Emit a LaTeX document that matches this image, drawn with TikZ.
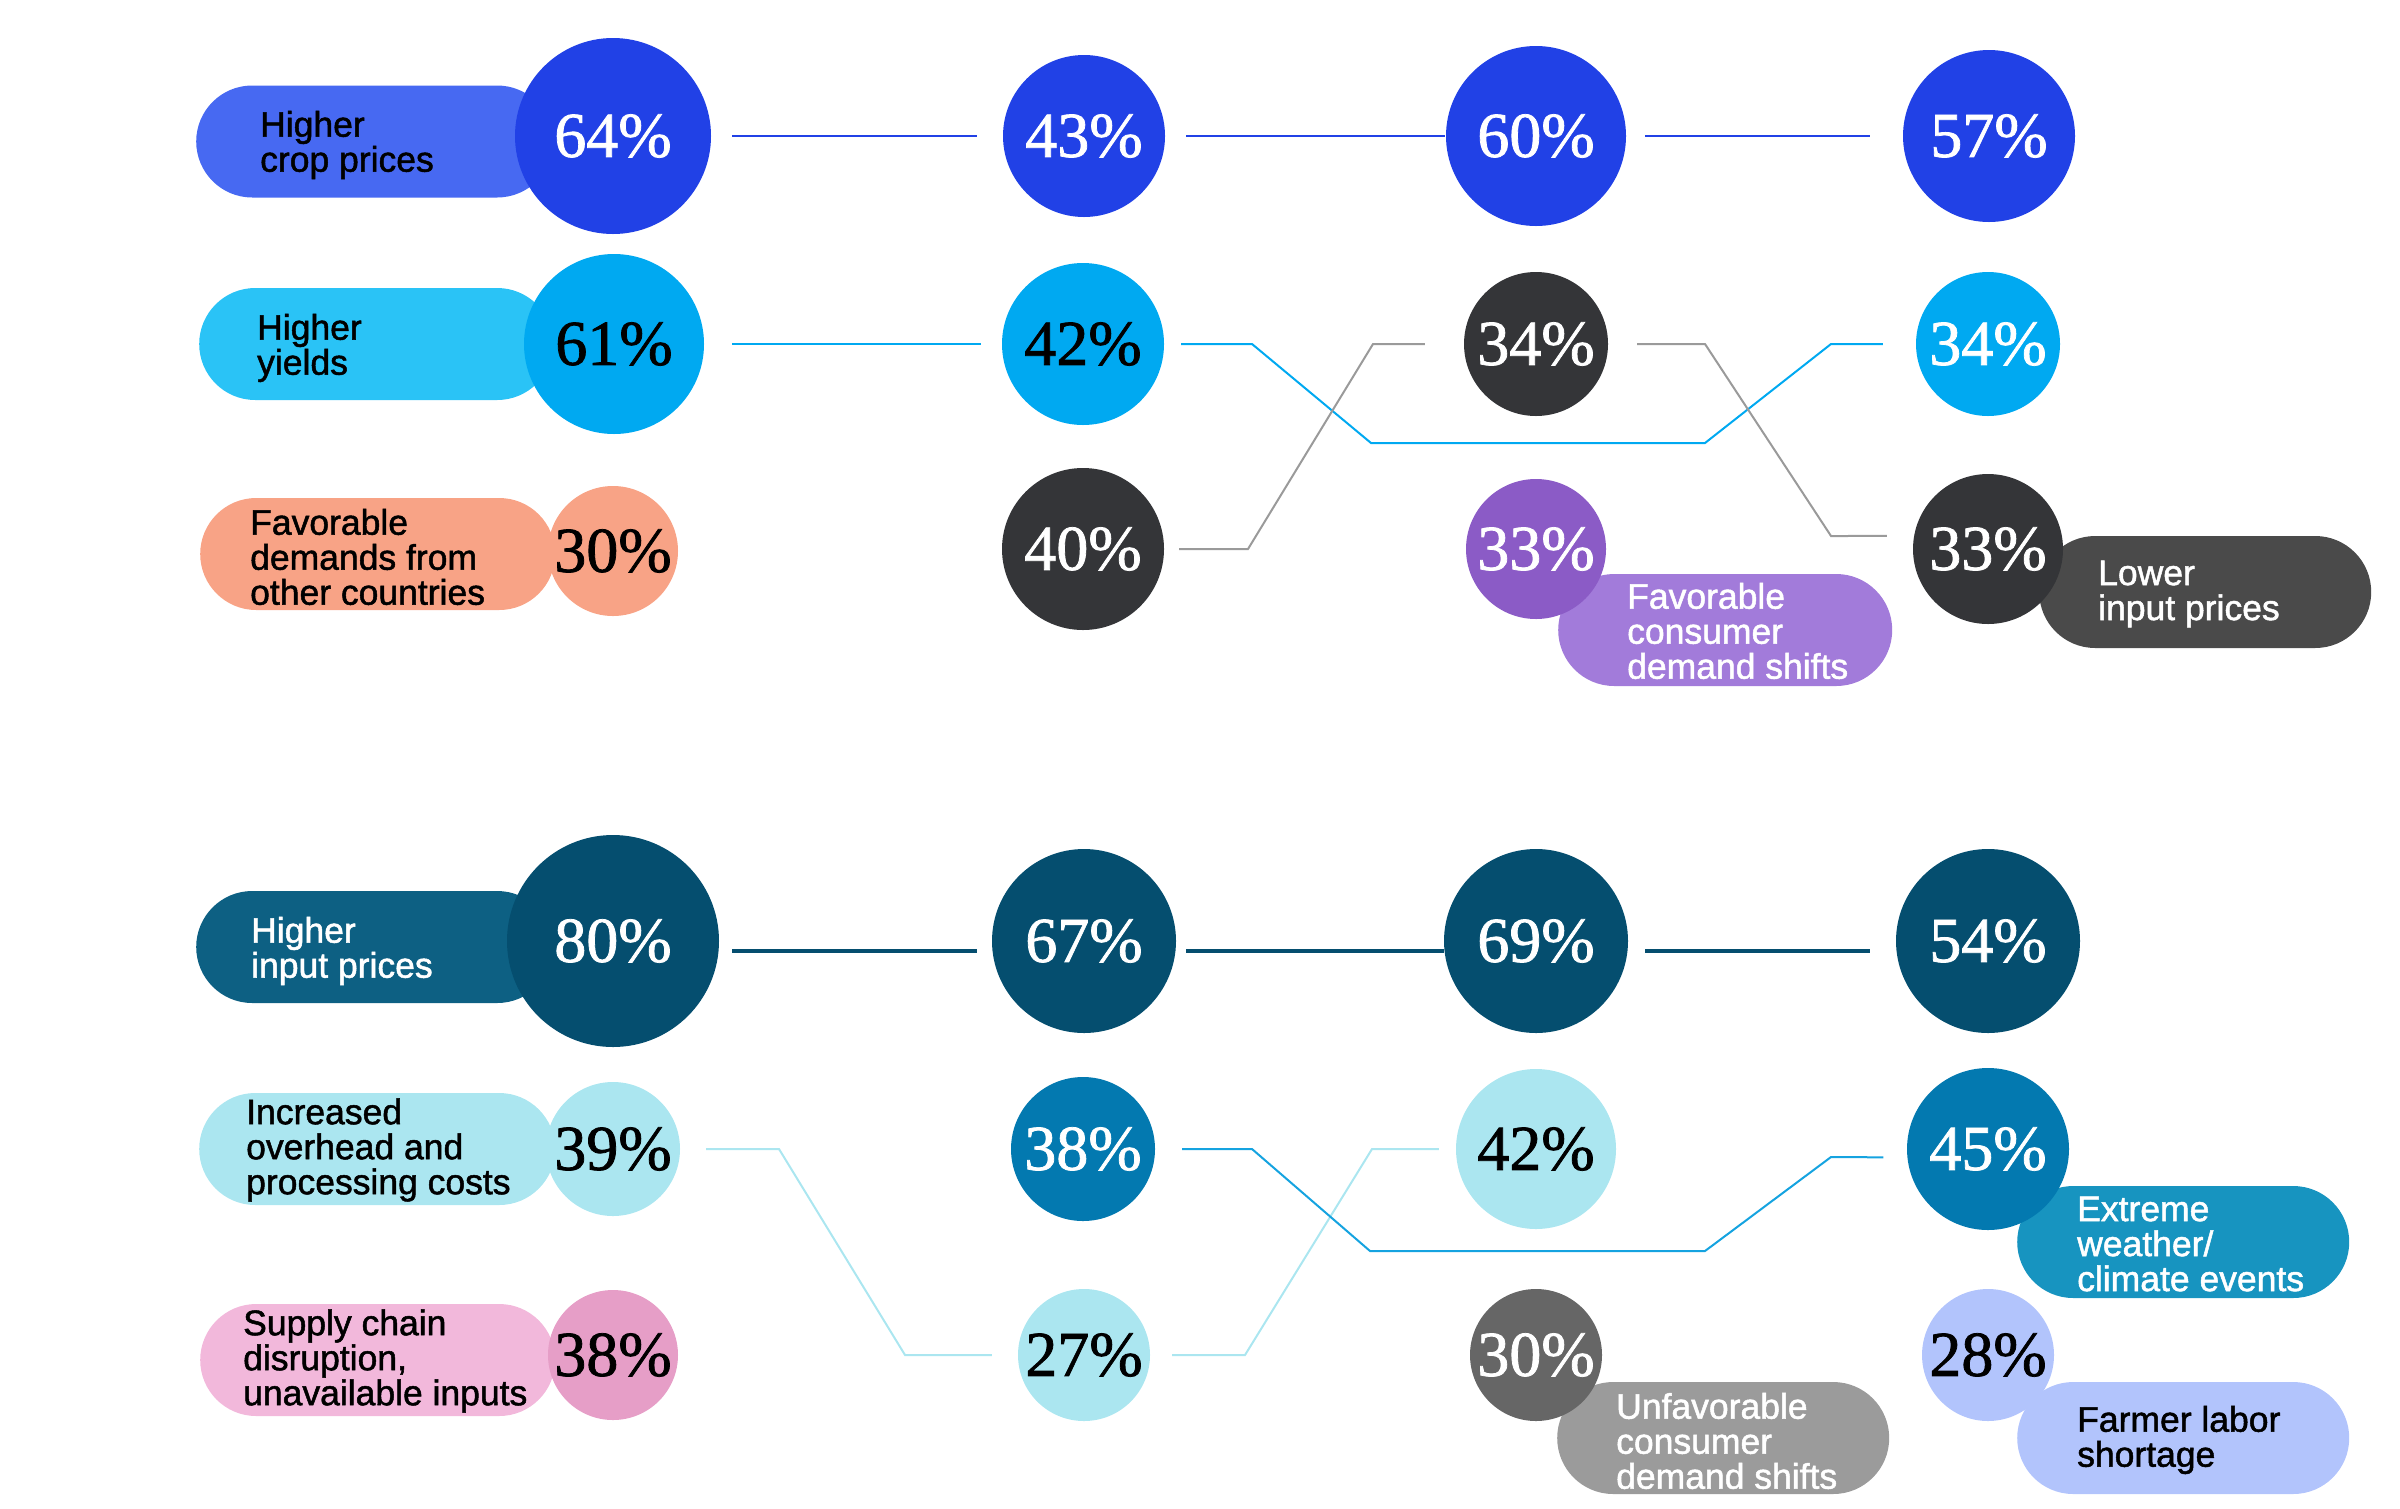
\documentclass[tikz,border=0pt]{standalone}
\usepackage{fontspec}
\newfontfamily\lblsans{Liberation Sans}[FakeBold=1.4]
\newfontfamily\pctserif{Liberation Serif}[FakeBold=1.2]
\newcommand\lblfont{\lblsans\fontsize{35.5}{35}\selectfont}
\newcommand\pctfont{\pctserif\fontsize{64}{64}\selectfont}

\definecolor{cropC}{HTML}{2141E6}
\definecolor{cropP}{HTML}{4769F2}
\definecolor{yieldC}{HTML}{00A9F1}
\definecolor{yieldP}{HTML}{2AC3F6}
\definecolor{salmonC}{HTML}{F8A386}
\definecolor{coalC}{HTML}{343538}
\definecolor{lowerP}{HTML}{4A4A4A}
\definecolor{purpleC}{HTML}{8B5BC6}
\definecolor{purpleP}{HTML}{A27BDA}
\definecolor{inputC}{HTML}{054E6F}
\definecolor{inputP}{HTML}{0D6083}
\definecolor{wxC}{HTML}{0379B0}
\definecolor{wxP}{HTML}{1794C0}
\definecolor{wxLine}{HTML}{15A3E0}
\definecolor{overC}{HTML}{ABE6F0}
\definecolor{pinkC}{HTML}{E69EC7}
\definecolor{pinkP}{HTML}{F2B8DB}
\definecolor{greyC}{HTML}{666666}
\definecolor{greyP}{HTML}{9B9B9B}
\definecolor{greyLine}{HTML}{9A9A9A}
\definecolor{periC}{HTML}{B2C4FC}

\tikzset{
  pill/.style={rectangle, rounded corners=56pt, minimum height=112pt, inner sep=0pt, anchor=west},
  pct/.style={circle, inner sep=0pt, font=\pctfont},
  lbl/.style={anchor=west, align=left, inner sep=0pt, font=\lblfont},
  link/.style={line width=2pt},
}

\begin{document}
\begin{tikzpicture}[x=1pt, y=-1pt]
  \useasboundingbox (0,0) rectangle (2400,1508);

  % label pills, left
  \node[pill, fill=cropP, minimum width=357pt] (bcrop) at (196,141.5) {};
  \node[pill, fill=yieldP, minimum width=354pt] (byield) at (199,344) {};
  \node[pill, fill=salmonC, minimum width=355pt] (bdemand) at (200,554) {};
  \node[pill, fill=inputP, minimum width=357pt] (binput) at (196,947) {};
  \node[pill, fill=overC, minimum width=356pt] (bover) at (199,1149) {};
  \node[pill, fill=pinkP, minimum width=355pt] (bsupply) at (200,1360) {};

  \node[lbl] (tcrop) at (260,145) {Higher\\crop prices};
  \node[lbl] (tyield) at (257,348) {Higher\\yields};
  \node[lbl] (tdemand) at (250,557) {Favorable\\demands from\\other countries};
  \node[lbl, text=white] (tinput) at (251,951) {Higher\\input prices};
  \node[lbl] (tover) at (246,1150) {Increased\\overhead and\\processing costs};
  \node[lbl] (tsupply) at (243,1361) {Supply chain\\disruption,\\unavailable inputs};

  % label pills, right
  \node[pill, fill=purpleP, minimum width=334pt] (bcons) at (1558,630) {};
  \node[pill, fill=lowerP, minimum width=332pt] (blower) at (2039,592) {};
  \node[pill, fill=wxP, minimum width=332pt] (bwx) at (2017,1242) {};
  \node[pill, fill=greyP, minimum width=332pt] (bunfav) at (1557,1438) {};
  \node[pill, fill=periC, minimum width=332pt] (blabor) at (2017,1438) {};

  \node[lbl, text=white] (tcons) at (1627,631) {Favorable\\consumer\\demand shifts};
  \node[lbl, text=white] (tlower) at (2098,594) {Lower\\input prices};
  \node[lbl, text=white] (twx) at (2077,1244) {Extreme\\weather/\\climate events};
  \node[lbl, text=white] (tunfav) at (1616,1441) {Unfavorable\\consumer\\demand shifts};
  \node[lbl] (tlabor) at (2077,1440) {Farmer labor\\shortage};

  % percentage circles
  \foreach \nm/\cx/\cy/\r/\cl/\tc/\val in {
      p64/613/136/98/cropC/white/64, p43/1084/136/81/cropC/white/43,
      p60/1536/136/90/cropC/white/60, p57/1989/136/86/cropC/white/57,
      p61/614/344/90/yieldC/black/61, p42/1083/344/81/yieldC/black/42,
      p34a/1536/344/72/coalC/white/34, p34b/1988/344/72/yieldC/white/34,
      p30a/613/551/65/salmonC/black/30, p40/1083/549/81/coalC/white/40,
      p33a/1536/549/70/purpleC/white/33, p33b/1988/549/75/coalC/white/33,
      p80/613/941/106/inputC/white/80, p67/1084/941/92/inputC/white/67,
      p69/1536/941/92/inputC/white/69, p54/1988/941/92/inputC/white/54,
      p39/613/1149/67/overC/black/39, p38b/1083/1149/72/wxC/white/38,
      p42c/1536/1149/80/overC/black/42, p45/1988/1149/81/wxC/white/45,
      p38a/613/1355/65/pinkC/black/38, p27/1084/1355/66/overC/black/27,
      p30b/1536/1355/66/greyC/white/30, p28/1988/1355/66/periC/black/28} {
    \node[pct, fill=\cl, text=\tc, minimum size=2*\r] (\nm) at (\cx,\cy) {\val\%};
  }

  % connectors, top block
  \draw[link, cropC, shorten <=21pt, shorten >=26pt] (p64) -- (p43);
  \draw[link, cropC, shorten <=21pt, shorten >=1pt] (p43) -- (p60);
  \draw[link, cropC, shorten <=19pt, shorten >=33pt] (p60) -- (p57);
  \draw[link, yieldC, shorten <=28pt, shorten >=21pt] (p61) -- (p42);
  \draw[link, yieldC, shorten <=17pt, shorten >=33pt]
    (p42) -- (1252,344) -- (1371,443) -- (1705,443) -- (1831,344) -- (p34b);
  \draw[link, greyLine, shorten <=15pt, shorten >=39pt]
    (p40) -- (1248,549) -- (1373,344) -- (p34a);
  \draw[link, greyLine, shorten <=29pt, shorten >=27pt]
    (p34a) -- (1705,344) -- (1831,536) -- (p33b.170);

  % connectors, bottom block
  \draw[link, line width=3.5pt, inputC, shorten <=13pt, shorten >=15pt]
    ([yshift=-10pt]p80.east) -- ([yshift=-10pt]p67.west);
  \draw[link, line width=3.5pt, inputC, shorten <=10pt]
    ([yshift=-10pt]p67.east) -- ([yshift=-10pt]p69.west);
  \draw[link, line width=3.5pt, inputC, shorten <=17pt, shorten >=26pt]
    ([yshift=-10pt]p69.east) -- ([yshift=-10pt]p54.west);
  \draw[link, overC, shorten <=26pt, shorten >=26pt]
    (p39) -- (779,1149) -- (905,1355) -- (p27);
  \draw[link, overC, shorten <=22pt, shorten >=17pt]
    (p27) -- (1245,1355) -- (1372,1149) -- (p42c);
  \draw[link, wxLine, shorten <=27pt, shorten >=24pt]
    (p38b) -- (1252,1149) -- (1370,1251) -- (1705,1251) -- (1831,1157) -- (p45.186);
\end{tikzpicture}
\end{document}
